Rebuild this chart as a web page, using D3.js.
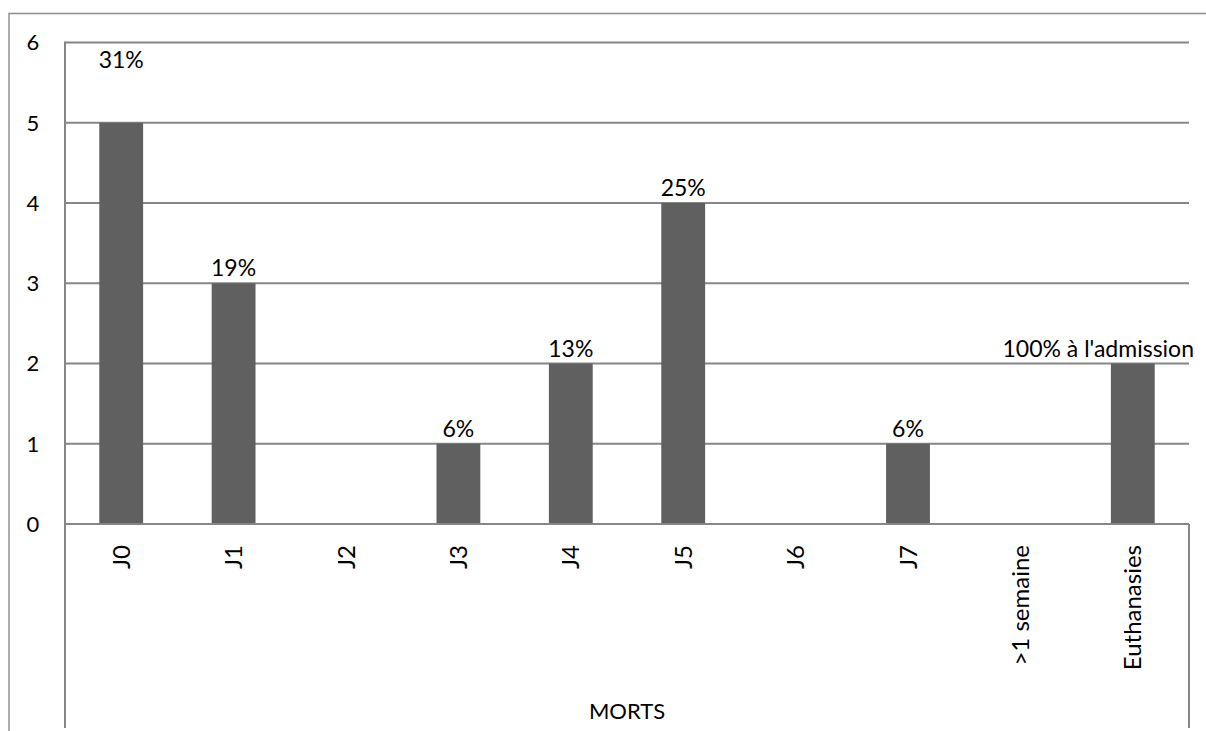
<!DOCTYPE html>
<html>
<head>
<meta charset="utf-8">
<script src="https://cdn.jsdelivr.net/npm/d3@7"></script>
<style>
  html, body { margin: 0; padding: 0; background: #fff; }
  svg { display: block; }
  text { font-family: Lato, "Open Sans", sans-serif; fill: #000; }
</style>
</head>
<body>
<svg id="chart" width="1206" height="731"></svg>
<script>
const categories = ["J0", "J1", "J2", "J3", "J4", "J5", "J6", "J7", ">1 semaine", "Euthanasies"];
const values = [5, 3, 0, 1, 2, 4, 0, 1, 0, 2];
const labels = ["31%", "19%", "", "6%", "13%", "25%", "", "6%", "", "100% à l'admission"];
const yTicks = [0, 1, 2, 3, 4, 5, 6];
const axisTitle = "MORTS";

(function () {
const svg = d3.select("#chart");
const W = 1206, H = 731;
const pLeft = 65, pRight = 1189, pTop = 42.5, pBottom = 524;

const x = d3.scaleBand().domain(categories).range([pLeft, pRight]).paddingInner(0.61).paddingOuter(0.305);
const y = d3.scaleLinear().domain([0, 6]).range([pBottom, pTop]);

// outer chart border (left and top)
svg.append("path")
  .attr("d", `M9,${H} L9,13.5 L${W},13.5`)
  .attr("fill", "none").attr("stroke", "#8c8c8c").attr("stroke-width", 1.4);

// gridlines
svg.append("g").selectAll("line").data(yTicks).join("line")
  .attr("x1", pLeft).attr("x2", pRight)
  .attr("y1", d => y(d)).attr("y2", d => y(d))
  .attr("stroke", "#868686").attr("stroke-width", 2);

// bars
svg.append("g").selectAll("rect").data(categories).join("rect")
  .attr("x", d => x(d))
  .attr("width", x.bandwidth())
  .attr("y", (d, i) => y(values[i]))
  .attr("height", (d, i) => y(0) - y(values[i]))
  .attr("fill", "#606060");

// zero line over the bars
svg.append("line").attr("x1", pLeft).attr("x2", pRight).attr("y1", y(0)).attr("y2", y(0))
  .attr("stroke", "#868686").attr("stroke-width", 2);

// value axis line and category axis box
svg.append("line").attr("x1", pLeft).attr("x2", pLeft).attr("y1", pTop - 1).attr("y2", 728)
  .attr("stroke", "#868686").attr("stroke-width", 2);
svg.append("line").attr("x1", pRight).attr("x2", pRight).attr("y1", y(0)).attr("y2", 728)
  .attr("stroke", "#868686").attr("stroke-width", 2);

// y tick labels
svg.append("g").selectAll("text").data(yTicks).join("text")
  .attr("x", 33).attr("y", d => y(d))
  .attr("dy", "0.36em")
  .attr("text-anchor", "middle")
  .attr("font-size", 22)
  .text(d => d);

// category labels (rotated)
svg.append("g").selectAll("text").data(categories).join("text")
  .attr("transform", d => `translate(${x(d) + x.bandwidth() / 2},545) rotate(-90)`)
  .attr("dy", "0.36em")
  .attr("text-anchor", "end")
  .attr("font-size", 24)
  .text(d => d);

// axis title
svg.append("text").attr("x", (pLeft + pRight) / 2).attr("y", 719)
  .attr("text-anchor", "middle").attr("font-size", 22).text(axisTitle);

// data labels
svg.append("g").selectAll("text").data(categories).join("text")
  .attr("x", (d, i) => i === categories.length - 1 ? pRight + 5 : x(d) + x.bandwidth() / 2)
  .attr("y", (d, i) => y(values[i]) - (i === 0 ? 55 : 7))
  .attr("text-anchor", (d, i) => i === categories.length - 1 ? "end" : "middle")
  .attr("font-size", 23)
  .text((d, i) => labels[i]);
})();
</script>
</body>
</html>
